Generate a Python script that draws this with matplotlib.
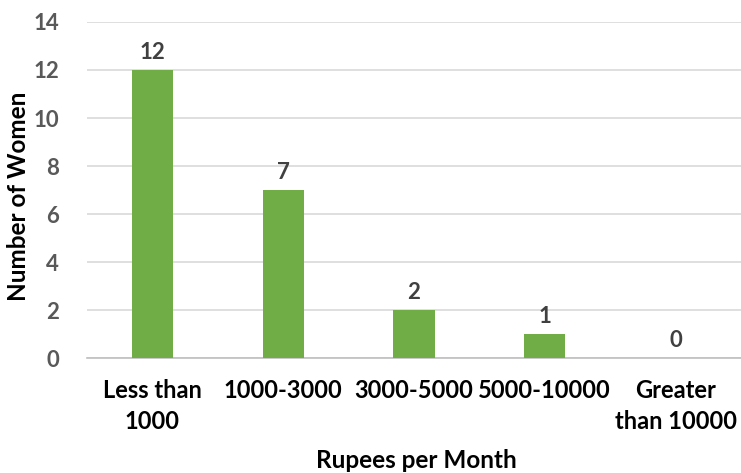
import matplotlib
matplotlib.use("Agg")
import matplotlib.pyplot as plt

categories = ["Less than\n1000", "1000-3000", "3000-5000", "5000-10000", "Greater\nthan 10000"]
values = [12, 7, 2, 1, 0]
yticks = [0, 2, 4, 6, 8, 10, 12, 14]

plt.rcParams['font.family'] = ['Lato', 'DejaVu Sans']
plt.rcParams['font.weight'] = 'bold'

fig = plt.figure(figsize=(7.41, 4.73), dpi=100)
ax = fig.add_axes([87/741, 1-358/473, 1-87/741, (358-22)/473])

x = range(len(categories))
bars = ax.bar(x, values, width=0.315, color="#70AD47", zorder=3)
for xi, v in zip(x, values):
    ax.text(xi, v + 0.3, str(v), ha="center", va="bottom", fontsize=16,
            fontweight="bold", color="#404040")

ax.set_xlim(-0.5, len(categories) - 0.5)
ax.set_ylim(0, 14)
ax.set_yticks(yticks)
ax.set_yticklabels([str(t) for t in yticks], fontsize=16, fontweight="bold", color="#595959")
ax.set_xticks(list(x))
ax.set_xticklabels(categories, fontsize=17, fontweight="bold", color="#000000", linespacing=1.45)
ax.tick_params(axis="both", length=0)
ax.tick_params(axis="x", pad=15)
ax.tick_params(axis="y", pad=20)
ax.grid(axis="y", color="#D9D9D9", linewidth=1.2, zorder=0)
for s in ["top", "right", "left"]:
    ax.spines[s].set_visible(False)
ax.spines["bottom"].set_color("#BFBFBF")
ax.spines["bottom"].set_linewidth(1.2)

fig.text(19/741, 1-196/473, "Number of Women", rotation=90, ha="center", va="center",
         fontsize=17.5, fontweight="bold", color="#000000")
fig.text(416/741, 1-460/473, "Rupees per Month", ha="center", va="center",
         fontsize=17.5, fontweight="bold", color="#000000")

fig.savefig("out.png", dpi=100)
